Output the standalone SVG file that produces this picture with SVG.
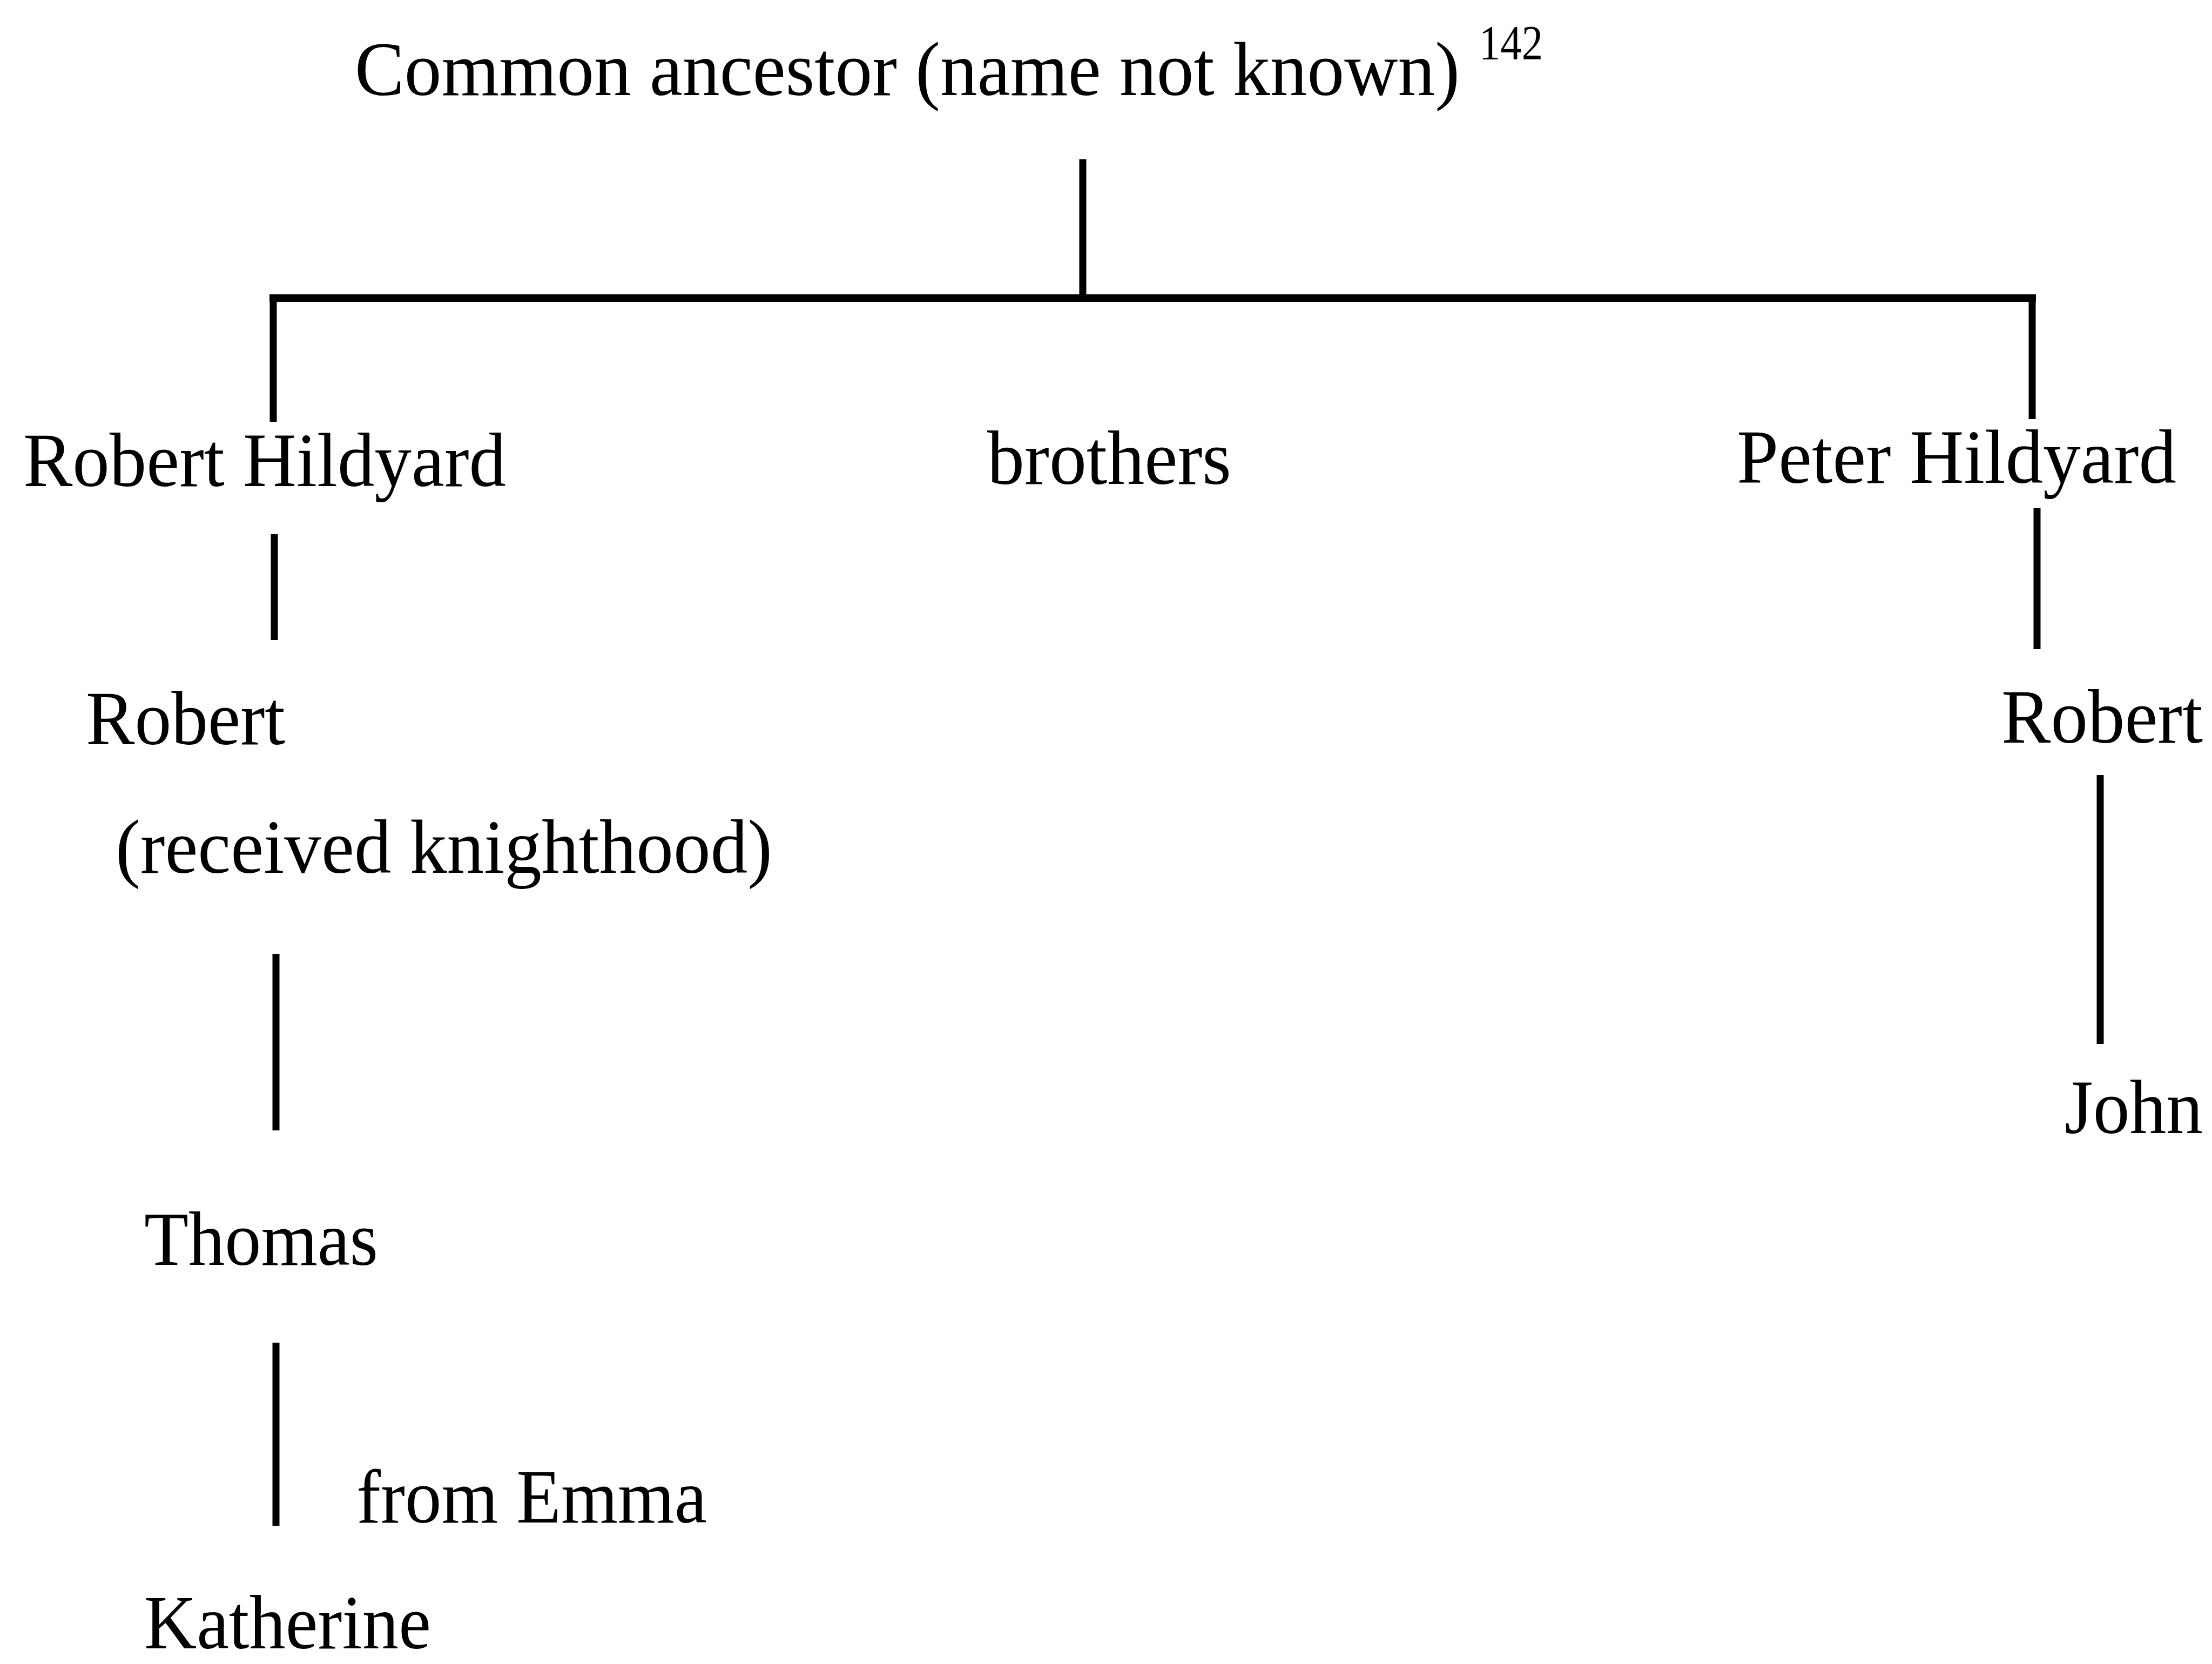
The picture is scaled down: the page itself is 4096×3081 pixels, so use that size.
<svg xmlns="http://www.w3.org/2000/svg" width="4096" height="3081" viewBox="0 0 4096 3081">
  <style>
    .t { font-family: "Liberation Serif", "Times New Roman", serif; font-size: 142px; fill: #000; }
    .sup { font-size: 90px; }
    .ln { stroke: #000; stroke-width: 13; fill: none; stroke-linecap: butt; }
  </style>
  <rect width="4096" height="3081" fill="#fff"/>

  <!-- descent lines -->
  <g id="connectors">
    <line class="ln" x1="2005" y1="295" x2="2005" y2="552"/>
    <line class="ln" x1="499" y1="552" x2="3770" y2="552" style="stroke-width:14"/>
    <line class="ln" x1="506" y1="546" x2="506" y2="781"/>
    <line class="ln" x1="3763" y1="546" x2="3763" y2="776"/>
    <line class="ln" x1="508" y1="989" x2="508" y2="1185"/>
    <line class="ln" x1="3772" y1="941" x2="3772" y2="1202"/>
    <line class="ln" x1="511" y1="1766" x2="511" y2="2093"/>
    <line class="ln" x1="3889" y1="1435" x2="3889" y2="1933"/>
    <line class="ln" x1="511" y1="2486" x2="511" y2="2825"/>
  </g>

  <g id="ancestor">
    <text class="t" x="657" y="176"><tspan textLength="2046" lengthAdjust="spacingAndGlyphs">Common ancestor (name not known)</tspan><tspan class="sup" x="2739" y="110" textLength="118" lengthAdjust="spacingAndGlyphs">142</tspan></text>
  </g>
  <g id="robert-hildyard">
    <text class="t" x="43" y="900" textLength="894" lengthAdjust="spacingAndGlyphs">Robert Hildyard</text>
  </g>
  <g id="brothers">
    <text class="t" x="1828" y="896" textLength="452" lengthAdjust="spacingAndGlyphs">brothers</text>
  </g>
  <g id="peter-hildyard">
    <text class="t" x="3216" y="894" textLength="814" lengthAdjust="spacingAndGlyphs">Peter Hildyard</text>
  </g>
  <g id="robert-knight">
    <text class="t" x="159" y="1378" textLength="369" lengthAdjust="spacingAndGlyphs">Robert</text>
    <text class="t" x="214" y="1616" textLength="1216" lengthAdjust="spacingAndGlyphs">(received knighthood)</text>
  </g>
  <g id="robert-son-of-peter">
    <text class="t" x="3706" y="1375" textLength="373" lengthAdjust="spacingAndGlyphs">Robert</text>
  </g>
  <g id="john">
    <text class="t" x="3823" y="2098" textLength="256" lengthAdjust="spacingAndGlyphs">John</text>
  </g>
  <g id="thomas">
    <text class="t" x="267" y="2342" textLength="433" lengthAdjust="spacingAndGlyphs">Thomas</text>
  </g>
  <g id="from-emma">
    <text class="t" x="660" y="2819" textLength="649" lengthAdjust="spacingAndGlyphs">from Emma</text>
  </g>
  <g id="katherine">
    <text class="t" x="267" y="3052" textLength="531" lengthAdjust="spacingAndGlyphs">Katherine</text>
  </g>
</svg>
